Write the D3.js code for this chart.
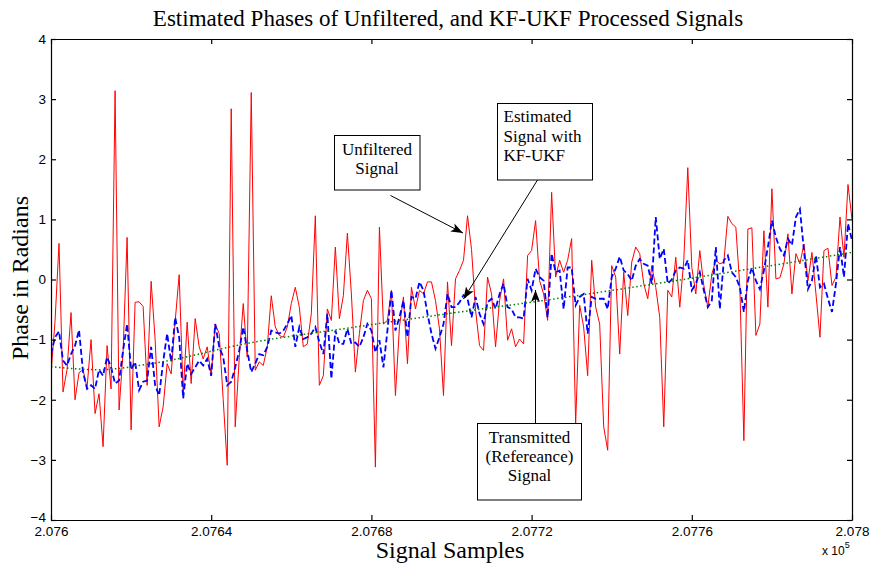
<!DOCTYPE html>
<html>
<head>
<meta charset="utf-8">
<script src="https://cdn.jsdelivr.net/npm/d3@7/dist/d3.min.js"></script>
<style>
  body { margin: 0; background: #fff; }
  svg text { fill: #000; }
</style>
</head>
<body>
<div id="chart"></div>
<script>
// ---- data ----
const firstSample = 207600;

// unfiltered phase, one value per sample from 207600 to 207800
const unfiltered = [
  -1.57, -0.70,  0.60, -1.87, -1.50, -0.55, -2.00, -1.55, -1.50, -1.80,
  -1.00, -2.23, -1.90, -2.78, -1.10, -1.82,  3.14, -2.17, -1.20,  0.70,
  -2.50, -0.38, -0.37, -0.45, -1.76, -0.03, -1.00, -2.45, -2.12, -1.40,
  -1.57, -0.70,  0.08, -1.90, -0.71, -1.73, -0.65, -1.12, -1.32, -1.12,
  -1.60, -0.74, -0.90, -2.00, -3.09,  2.84, -2.45, -1.30, -0.40, -1.29,
   3.11, -1.51, -1.37, -1.43, -1.12, -0.27, -0.79, -0.93, -0.96, -0.79,
  -0.40, -0.13, -0.46, -1.12, -1.07, -0.57,  1.06, -1.76, -1.60, -0.49,
  -0.68,  0.54, -0.65, -0.27,  0.77, -0.24, -1.54, -0.90, -0.35, -0.18,
  -0.32, -3.12,  0.87, -0.74, -0.68, -0.18, -1.93, -0.79, -0.29, -1.40,
  -0.13, -0.49, -0.18, -0.24, -0.04, -0.04, -0.35, -0.82, -1.93, -0.04,
  -1.10,  0.01,  0.15,  0.32,  1.06,  0.50, -0.50, -1.10, -1.18,  0.04,
  -0.24, -1.12, -0.35,  0.01, -1.01, -0.82, -1.12, -0.99, -1.07,  0.40,
   0.48,  0.98, -0.02, -0.24, -0.68,  1.45,  0.04,  0.32,  0.12,  0.32,
   0.68, -2.40, -0.43, -0.79, -1.60,  0.32, -0.46, -0.74, -2.45, -2.84,
   0.23,  0.04, -1.24,  0.12, -0.60,  0.29,  0.54,  0.43, -0.07, -0.32,
   0.23, -0.13, -0.63, -2.45, -0.18, -0.29,  0.37, -0.46,  0.32,  1.86,
   0.20, -0.24,  0.48, -0.10, -0.46,  0.09,  0.32,  0.26,  0.29,  1.05,
   0.93,  0.87, -0.13, -2.68,  0.84,  0.86, -0.93, -0.74,  0.81, -0.46,
   1.51,  0.01,  0.03,  0.26,  0.76, -0.24,  0.43,  0.26,  0.59, -0.02,
   0.45, -0.24, -0.96,  0.48,  0.52, -0.10,  0.04,  1.04,  0.37,  1.58,
   1.00
];

// KF-UKF estimate, one value per sample
const estimated = [
  -1.24, -0.96, -0.86, -1.35, -1.43, -1.24, -1.10, -0.84, -1.54, -1.82,
  -1.76, -1.82, -1.50, -1.60, -1.29, -1.46, -1.73, -1.68, -1.18, -0.74,
  -1.50, -1.37, -1.84, -1.70, -1.68, -1.12, -1.76, -1.93, -1.37, -0.90,
  -1.37, -0.63, -0.96, -1.98, -1.40, -1.57, -1.46, -1.35, -1.43, -1.32,
  -1.60, -0.74, -1.12, -1.29, -1.76, -1.70, -1.46, -1.18, -0.79, -1.18,
  -1.54, -1.40, -1.24, -1.26, -1.12, -0.85, -0.88, -0.90, -0.85, -0.74,
  -0.60, -1.12, -0.79, -0.99, -0.96, -0.90, -0.79, -1.04, -1.24, -0.57,
  -1.65, -0.85, -1.07, -1.07, -0.82, -1.07, -1.05, -1.12, -0.96, -0.74,
  -0.85, -1.21, -1.01, -1.46, -0.85, -0.18, -0.85, -0.63, -0.35, -0.96,
  -0.29, -0.32, -0.04, -0.18, -0.57, -0.90, -1.15, -0.96, -0.74, -0.24,
  -0.46, -0.46, -0.38, -0.26, -0.32, -0.63, -0.29, -0.57, -0.74, -0.38,
  -0.32, -0.49, -0.24, -0.07, -0.46, -0.49, -0.63, -0.63, -0.65,  0.01,
  -0.18,  0.18,  0.04, -0.02, -0.63,  0.43,  0.12,  0.15, -0.49,  0.20,
   0.20, -0.43, -0.29, -0.24, -0.90, -0.29, -0.32, -0.32, -0.32, -0.49,
   0.04,  0.18,  0.38,  0.15,  0.09, -0.02,  0.23,  0.34,  0.26,  0.23,
  -0.07,  1.04,  0.34,  0.51, -0.07,  0.00,  0.15,  0.20,  0.18,  0.32,
  -0.18, -0.07,  0.12, -0.18, -0.46, -0.35,  0.54, -0.49,  0.32,  0.40,
   0.12,  0.04, -0.13, -0.54, -0.02,  0.20, -0.02, -0.16,  0.15,  0.54,
   0.98,  0.70,  0.51,  0.40,  0.68,  0.57,  1.04,  1.17,  0.48, -0.16,
  -0.02,  0.40, -0.13, -0.07, -0.32, -0.54, -0.07,  0.54,  0.04,  0.93,
   0.65
];

// transmitted (reference) phase, read at a few samples along the dotted curve
const refSamples = [207600, 207612, 207625, 207650, 207675, 207700, 207725, 207750, 207775, 207800];
const reference  = [ -1.45,  -1.50,  -1.40,  -1.05,  -0.80,  -0.56,  -0.33,  -0.08,   0.18,   0.45];

const xTicks = [207600, 207640, 207680, 207720, 207760, 207800];
const xTickLabels = ['2.076', '2.0764', '2.0768', '2.0772', '2.0776', '2.078'];
const yTicks = [-4, -3, -2, -1, 0, 1, 2, 3, 4];

// ---- layout ----
const width = 872, height = 568;
const plot = { left: 51, right: 852, top: 39, bottom: 520 };

const svg = d3.select('#chart').append('svg')
  .attr('width', width)
  .attr('height', height);

svg.append('rect').attr('width', width).attr('height', height).attr('fill', '#fff');

const x = d3.scaleLinear().domain([207600, 207800]).range([plot.left, plot.right]);
const y = d3.scaleLinear().domain([-4, 4]).range([plot.bottom, plot.top]);

svg.append('defs').append('clipPath').attr('id', 'clip')
  .append('rect')
  .attr('x', plot.left).attr('y', plot.top)
  .attr('width', plot.right - plot.left).attr('height', plot.bottom - plot.top);

// ---- series ----
const line = d3.line()
  .x((d, i) => x(firstSample + i))
  .y(d => y(d));

const g = svg.append('g').attr('clip-path', 'url(#clip)');

g.append('path').datum(unfiltered)
  .attr('d', line)
  .attr('fill', 'none')
  .attr('stroke', '#ff0000')
  .attr('stroke-width', 1);

g.append('path').datum(estimated)
  .attr('d', line)
  .attr('fill', 'none')
  .attr('stroke', '#0000ff')
  .attr('stroke-width', 1.8)
  .attr('stroke-dasharray', '6,3');

const refLine = d3.line()
  .x((d, i) => x(refSamples[i]))
  .y(d => y(d))
  .curve(d3.curveMonotoneX);

g.append('path').datum(reference)
  .attr('d', refLine)
  .attr('fill', 'none')
  .attr('stroke', '#008000')
  .attr('stroke-width', 1.5)
  .attr('stroke-dasharray', '1.5,2.5');

// ---- axes (MATLAB box: ticks inward on all four sides) ----
const axisFont = '"Liberation Sans", Arial, sans-serif';

svg.append('g')
  .attr('transform', `translate(0,${plot.bottom})`)
  .call(d3.axisBottom(x).tickValues(xTicks)
    .tickFormat((d, i) => xTickLabels[i])
    .tickSizeInner(-5).tickSizeOuter(0).tickPadding(6));

svg.append('g')
  .attr('transform', `translate(0,${plot.top})`)
  .call(d3.axisTop(x).tickValues(xTicks).tickFormat('')
    .tickSizeInner(-5).tickSizeOuter(0));

const yAxis = svg.append('g')
  .attr('transform', `translate(${plot.left},0)`)
  .call(d3.axisLeft(y).tickValues(yTicks).tickFormat(d3.format('d'))
    .tickSizeInner(-5).tickSizeOuter(0).tickPadding(5));

svg.append('g')
  .attr('transform', `translate(${plot.right},0)`)
  .call(d3.axisRight(y).tickValues(yTicks).tickFormat('')
    .tickSizeInner(-5).tickSizeOuter(0));

svg.selectAll('.domain, .tick line').attr('stroke', '#000').attr('stroke-width', 1.2);
svg.selectAll('.tick text')
  .attr('font-family', axisFont)
  .attr('font-size', 13.5)
  .attr('fill', '#000');
// the bottom "-4" sits just above the first x label, as in the original
yAxis.selectAll('.tick text').filter(d => d === -4).attr('dy', '0.1em');

// exponent label
const expo = svg.append('text')
  .attr('x', 822).attr('y', 555)
  .attr('font-family', axisFont)
  .attr('font-size', 12);
expo.append('tspan').text('x 10');
expo.append('tspan').attr('dy', -7).attr('font-size', 9).text('5');

// ---- titles ----
const serif = '"Liberation Serif", "Times New Roman", serif';

svg.append('text')
  .attr('x', 448).attr('y', 26)
  .attr('text-anchor', 'middle')
  .attr('font-family', serif).attr('font-size', 23)
  .text('Estimated Phases of Unfiltered, and KF-UKF Processed Signals');

svg.append('text')
  .attr('x', 450).attr('y', 558)
  .attr('text-anchor', 'middle')
  .attr('font-family', serif).attr('font-size', 24)
  .text('Signal Samples');

svg.append('text')
  .attr('transform', `translate(28,278) rotate(-90)`)
  .attr('text-anchor', 'middle')
  .attr('font-family', serif).attr('font-size', 24)
  .text('Phase in Radians');

// ---- annotations ----
svg.select('defs').append('marker')
  .attr('id', 'arrowhead')
  .attr('viewBox', '0 -5 12 10')
  .attr('refX', 12).attr('refY', 0)
  .attr('markerWidth', 12).attr('markerHeight', 10)
  .attr('markerUnits', 'userSpaceOnUse')
  .attr('orient', 'auto')
  .append('path').attr('d', 'M0,-4.5L12,0L0,4.5L3,0Z').attr('fill', '#000');

function arrow(x1, y1, x2, y2) {
  svg.append('line')
    .attr('x1', x1).attr('y1', y1).attr('x2', x2).attr('y2', y2)
    .attr('stroke', '#000').attr('stroke-width', 1)
    .attr('marker-end', 'url(#arrowhead)');
}

function textBox(bx, by, bw, bh, lines, anchor, tx, ty0, lh) {
  svg.append('rect')
    .attr('x', bx).attr('y', by).attr('width', bw).attr('height', bh)
    .attr('fill', 'none').attr('stroke', '#000').attr('stroke-width', 1);
  lines.forEach((t, i) => {
    svg.append('text')
      .attr('x', tx).attr('y', ty0 + i * lh)
      .attr('text-anchor', anchor)
      .attr('font-family', serif).attr('font-size', 17)
      .text(t);
  });
}

textBox(334.5, 135.5, 85.5, 54.5, ['Unfiltered', 'Signal'], 'middle', 377, 155, 18.5);
arrow(390.5, 195.5, 463, 233);

textBox(497.5, 103.5, 95, 76.5, ['Estimated', 'Signal with', 'KF-UKF'], 'start', 503.5, 122, 19.5);
arrow(537.5, 180, 463.5, 299);

textBox(477.5, 423.5, 104, 76.5, ['Transmitted', '(Refereance)', 'Signal'], 'middle', 529.5, 443, 19);
arrow(535.5, 423.5, 535.5, 290);
</script>
</body>
</html>
